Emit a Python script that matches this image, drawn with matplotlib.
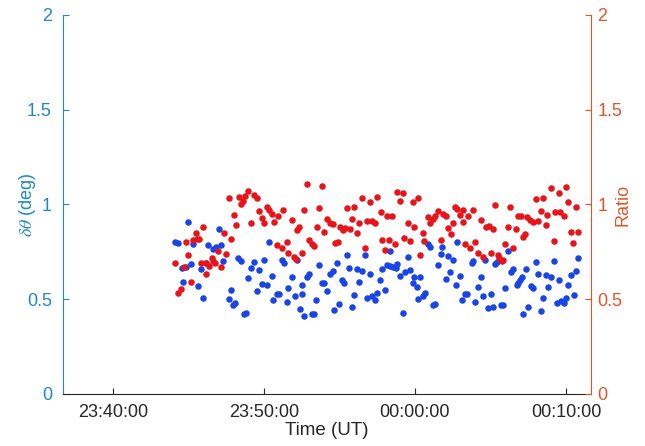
import datetime as dt

import matplotlib
matplotlib.use("Agg")
import matplotlib.pyplot as plt
import matplotlib.dates as mdates

plt.rcParams["font.family"] = ["Liberation Sans", "DejaVu Sans"]
plt.rcParams["mathtext.fontset"] = "stix"

# ---------------------------------------------------------------------------
# Data (time in minutes after 23:40:00 UT)
# ---------------------------------------------------------------------------

dtheta_time = [
    4.12, 4.34, 4.57, 4.67, 4.85, 5.00, 5.18, 5.33, 5.66, 5.84, 5.96, 6.15,
    6.33, 6.66, 6.84, 7.05, 7.17, 7.32, 7.68, 7.81, 7.98, 8.09, 8.31, 8.47,
    8.69, 8.80, 8.97, 9.13, 9.35, 9.53, 9.66, 9.86, 9.99, 10.19, 10.34,
    10.52, 10.63, 10.85, 11.01, 11.18, 11.34, 11.52, 11.62, 11.85, 12.06,
    12.18, 12.40, 12.51, 12.51, 12.68, 12.84, 13.01, 13.17, 13.34, 13.45,
    13.67, 13.83, 13.98, 14.20, 14.38, 14.56, 14.67, 14.82, 15.00, 15.16,
    15.31, 15.53, 15.66, 15.86, 15.97, 16.15, 16.32, 16.48, 16.70, 16.81,
    17.03, 17.14, 17.36, 17.47,
    17.69, 17.80, 18.02, 18.13, 18.35, 18.35, 18.57, 18.73, 18.80, 19.01,
    19.19, 19.34, 19.52, 19.68, 19.85, 19.96, 20.12, 20.18, 20.34, 20.52,
    20.67, 20.89, 21.00, 21.18, 21.33, 21.51, 21.73, 21.77, 22.04, 22.17,
    22.32, 22.50, 22.70, 22.81, 22.98, 23.14, 23.31, 23.47,
    23.76, 23.82, 23.98, 24.20, 24.35, 24.53, 24.64, 24.86, 25.02, 25.19,
    25.30, 25.45, 25.68, 25.85, 25.96, 26.14, 26.34, 26.47, 26.74, 26.84,
    26.96, 27.07, 27.13, 27.35, 27.50, 27.66, 27.84, 28.01, 28.17, 28.33,
    28.50, 28.68, 28.83, 28.99, 29.20, 29.38, 29.52, 29.65, 29.87, 30.00,
    30.15, 30.31, 30.53, 30.66, 30.81,
]
dtheta = [
    0.804, 0.798, 0.666, 0.593, 0.670, 0.906, 0.686, 0.792, 0.571, 0.658,
    0.508, 0.693, 0.786, 0.765, 0.774, 0.869, 0.786, 0.703, 0.503, 0.549,
    0.470, 0.482, 0.716, 0.703, 0.422, 0.429, 0.614, 0.666, 0.698, 0.545,
    0.656, 0.580, 0.707, 0.575, 0.804,
    0.623, 0.496, 0.528, 0.528, 0.707, 0.690, 0.484, 0.558, 0.619, 0.517,
    0.707, 0.449, 0.575, 0.528, 0.413, 0.616, 0.633, 0.422, 0.422, 0.496,
    0.681, 0.584, 0.587, 0.545, 0.633, 0.651, 0.443, 0.693, 0.475, 0.602,
    0.587, 0.734, 0.666, 0.461, 0.522, 0.660, 0.593, 0.651, 0.734, 0.508,
    0.633, 0.517, 0.496, 0.531,
    0.602, 0.658, 0.549, 0.681, 0.756, 0.675, 0.672, 0.666, 0.686, 0.623,
    0.429, 0.645, 0.721, 0.654, 0.587, 0.616, 0.566, 0.501, 0.616, 0.517,
    0.531, 0.792, 0.777, 0.470, 0.475, 0.681, 0.739, 0.774, 0.605, 0.728,
    0.645, 0.707, 0.575, 0.804, 0.623, 0.496, 0.528, 0.528,
    0.690, 0.703, 0.487, 0.563, 0.619, 0.517, 0.707, 0.452, 0.526, 0.461,
    0.686, 0.698, 0.470, 0.470, 0.558, 0.756, 0.645, 0.658, 0.575, 0.587,
    0.602, 0.619, 0.422, 0.658, 0.458, 0.570, 0.558, 0.698, 0.633, 0.440,
    0.505, 0.628, 0.566, 0.616, 0.703, 0.482, 0.602, 0.492, 0.479, 0.505,
    0.575, 0.628, 0.522, 0.651, 0.719,
]

ratio_time = [
    4.12, 4.34, 4.52, 4.72, 4.85, 5.00, 5.18, 5.33, 5.51, 5.60, 5.73, 5.84,
    5.96, 6.15, 6.17, 6.37, 6.55, 6.66, 6.77, 6.99, 7.15, 7.37, 7.50, 7.70,
    7.81, 8.03, 8.16, 8.36, 8.49, 8.60, 8.76, 8.97, 9.13, 9.37, 9.53, 9.68,
    9.86, 10.01, 10.19, 10.34,
    10.52, 10.67, 10.85, 10.96, 11.18, 11.29, 11.52, 11.62, 11.85, 12.00,
    12.13, 12.22, 12.35, 12.51, 12.68, 12.84, 13.01, 13.17, 13.34, 13.50,
    13.67, 13.83, 14.00, 14.20, 14.38, 14.56, 14.71, 14.89, 15.04, 15.22,
    15.37, 15.49, 15.70, 15.82, 15.99, 16.19, 16.32, 16.48, 16.70, 16.81,
    17.03, 17.14, 17.36, 17.47,
    17.76, 17.80, 18.02, 18.13, 18.31, 18.46, 18.68, 18.80, 19.01, 19.19,
    19.30, 19.52, 19.68, 19.85, 19.96, 20.18, 20.34, 20.52, 20.62, 20.85,
    21.00, 21.22, 21.33, 21.51, 21.73, 21.88, 22.06, 22.17, 22.37, 22.50,
    22.65, 22.81, 22.98, 23.16, 23.16, 23.31, 23.53,
    23.65, 23.82, 23.98, 24.20, 24.35, 24.53, 24.70, 24.92, 25.02, 25.19,
    25.30, 25.48, 25.59, 25.74, 25.85, 25.96, 26.18, 26.29, 26.47, 26.69,
    26.80, 27.02, 27.13, 27.29, 27.44, 27.62, 27.80, 28.01, 28.13, 28.33,
    28.46, 28.68, 28.76, 28.99, 29.20, 29.27, 29.54, 29.60, 29.87, 30.00,
    30.15, 30.31, 30.48, 30.66, 30.81,
]
ratio = [
    0.693, 0.535, 0.554, 0.669, 0.802, 0.734, 0.593, 0.813, 0.851, 0.816,
    0.818, 0.693, 0.880, 0.690, 0.633, 0.675, 0.716, 0.703, 0.693, 0.755,
    0.672, 0.851, 0.739, 1.033, 0.818, 0.945, 0.892, 1.038, 1.001, 1.018,
    1.045, 1.073, 0.904, 1.050, 1.033, 0.967, 0.930, 0.904, 0.985, 0.971,
    0.948, 0.909, 0.786, 0.939, 0.769, 0.971, 0.804, 0.742, 0.918, 0.725,
    0.711, 0.865, 0.880, 0.746, 0.971, 1.107, 0.813, 0.792, 0.781, 0.880,
    0.980, 1.098, 0.855, 0.922, 0.901, 0.897, 0.795, 0.804, 0.883, 0.865,
    0.874, 0.980, 0.869, 0.922, 0.985, 0.851, 0.904, 1.033, 0.769, 0.913,
    1.015, 0.914, 0.901, 1.038,
    0.962, 0.813, 0.760, 0.939, 0.813, 0.939, 0.792, 1.068, 1.020, 1.059,
    0.822, 0.901, 0.807, 1.015, 0.880, 1.033, 0.734, 0.851, 0.807, 0.932,
    0.901, 0.922, 0.939, 0.967, 0.813, 0.950, 0.939, 0.874, 0.844, 0.904,
    0.985, 0.975, 0.945, 0.971, 0.909, 0.792, 0.939,
    0.769, 0.971, 0.804, 0.746, 0.918, 0.721, 0.880, 0.887, 0.746, 0.869,
    0.997, 0.734, 0.716, 0.703, 0.707, 0.792, 0.880, 0.985, 0.772, 0.869,
    0.939, 0.939, 0.827, 0.844, 0.932, 0.918, 0.909, 1.027, 0.913, 0.967,
    1.033, 0.892, 0.945, 1.085, 0.809, 0.959, 1.062, 0.959, 0.939, 1.091,
    1.012, 0.853, 0.798, 0.985, 0.853,
]

t0 = dt.datetime(2000, 1, 1, 23, 40, 0)
x_min, x_max = -3.29, 31.63          # axis limits, minutes after t0


def to_dt(minutes):
    return [t0 + dt.timedelta(minutes=m) for m in minutes]


# ---------------------------------------------------------------------------
# Figure
# ---------------------------------------------------------------------------

LEFT_C = "#1f88c9"
RIGHT_C = "#e0552b"
BLUE = "#1a45e6"
RED = "#e8141a"
FS = 13

fig = plt.figure(figsize=(6.45, 4.46), dpi=100)
ax = fig.add_axes([0.0977, 0.1166, 0.818, 0.8498])
ax2 = ax.twinx()

ax.scatter(to_dt(dtheta_time), dtheta, s=22, color=BLUE, linewidths=0, zorder=3)
ax2.scatter(to_dt(ratio_time), ratio, s=22, color=RED, linewidths=0, zorder=3)

ax.set_xlim(t0 + dt.timedelta(minutes=x_min), t0 + dt.timedelta(minutes=x_max))
ax.set_ylim(0, 2)
ax2.set_ylim(0, 2)
ax.set_yticks([0, 0.5, 1, 1.5, 2])
ax2.set_yticks([0, 0.5, 1, 1.5, 2])
ax.yaxis.set_major_formatter(plt.FuncFormatter(lambda v, _: f"{v:g}"))
ax2.yaxis.set_major_formatter(plt.FuncFormatter(lambda v, _: f"{v:g}"))

ax.xaxis.set_major_locator(mdates.MinuteLocator(byminute=[0, 10, 20, 30, 40, 50]))
ax.xaxis.set_major_formatter(mdates.DateFormatter("%H:%M:%S"))

for a in (ax, ax2):
    a.spines["top"].set_visible(False)
    a.patch.set_visible(False)
ax.spines["right"].set_visible(False)
ax.spines["left"].set_color(LEFT_C)
ax.spines["bottom"].set_color("#262626")
ax2.spines["left"].set_visible(False)
ax2.spines["bottom"].set_visible(False)
ax2.spines["right"].set_color(RIGHT_C)

ax.tick_params(axis="y", direction="in", length=4, colors=LEFT_C,
               labelsize=FS, pad=8)
ax.tick_params(axis="x", direction="in", length=4, color="#262626",
               labelcolor="#262626", labelsize=FS, pad=7)
ax2.tick_params(axis="y", direction="in", length=4, colors=RIGHT_C,
                labelsize=FS, pad=5)

ax.set_ylabel(r"$\delta\theta$ (deg)", color=LEFT_C, fontsize=FS)
ax.yaxis.set_label_coords(-0.047, 0.5)
ax2.set_ylabel("Ratio", color=RIGHT_C, fontsize=FS)
ax2.yaxis.set_label_coords(1.046, 0.5)
ax.set_xlabel("Time (UT)", color="#262626", fontsize=13.5, labelpad=1)

fig.savefig("out.png", dpi=100)
